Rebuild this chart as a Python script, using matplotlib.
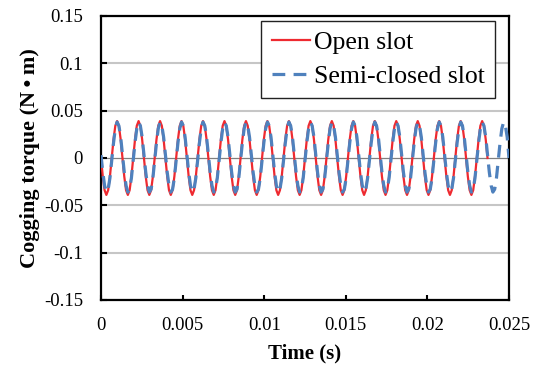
import numpy as np
import matplotlib
matplotlib.use("Agg")
from matplotlib import pyplot as plt

# one period of each waveform (12 samples per period)
open_period = [0.0, -0.0195, -0.034, -0.039, -0.034, -0.0195,
               0.0, 0.0195, 0.034, 0.039, 0.034, 0.0195]
semi_period = [0.003, -0.015, -0.029, -0.036, -0.033, -0.021,
               -0.003, 0.016, 0.031, 0.038, 0.034, 0.022]

# cycles counted on the chart: 19 cycles in 0.025 s
n_open_cycles = 18
n_semi_cycles = 19
period = 0.025 / 19

open_slot = open_period * n_open_cycles + [0.0]
semi_slot = semi_period * n_semi_cycles + [0.0]

x_ticks = [0, 0.005, 0.01, 0.015, 0.02, 0.025]
x_labels = ['0', '0.005', '0.01', '0.015', '0.02', '0.025']
y_ticks = [0.15, 0.1, 0.05, 0, -0.05, -0.1, -0.15]
y_labels = ['0.15', '0.1', '0.05', '0', '-0.05', '-0.1', '-0.15']

plt.rcParams['font.family'] = ['Liberation Serif', 'DejaVu Serif']

dt = period / len(open_period)
t_open = np.arange(len(open_slot)) * dt
t_semi = np.arange(len(semi_slot)) * dt

fig = plt.figure(figsize=(5.36, 3.70), dpi=100)
ax = fig.add_axes([101 / 536, 1 - 300 / 370, 408 / 536, 284 / 370])

for y in y_ticks:
    if y != 0:
        ax.axhline(y, color='#c6c6c6', lw=1.5, zorder=1)
ax.axhline(0, color='#808080', lw=0.9, zorder=1)

ax.plot(t_open, open_slot, color='#ee2a30', lw=1.6, label='Open slot', zorder=3)
ax.plot(t_semi, semi_slot, color='#4f81bd', lw=2.3, dashes=(4, 2.6),
        label='Semi-closed slot', zorder=4)

ax.set_xlim(0, 0.025)
ax.set_ylim(-0.15, 0.15)
ax.set_xticks(x_ticks)
ax.set_xticklabels(x_labels)
ax.set_yticks(y_ticks)
ax.set_yticklabels(y_labels)
ax.tick_params(axis='both', direction='in', labelsize=13.5, width=1.5)
ax.tick_params(axis='y', length=4.5, pad=13)
ax.tick_params(axis='x', length=3.5, pad=12)

for s in ax.spines.values():
    s.set_linewidth(1.6)
    s.set_color('black')

ax.set_xlabel('Time (s)', fontsize=15, fontweight='bold', labelpad=7)
ax.set_ylabel('Cogging torque (N\u2009\u2022\u2009m)', fontsize=16, fontweight='bold', labelpad=3)

leg = ax.legend(loc='upper right', bbox_to_anchor=(0.966, 0.983), borderaxespad=0,
                fontsize=18.5, handlelength=1.5, handletextpad=0.15, labelspacing=0.42,
                borderpad=0.4, fancybox=False, framealpha=1, edgecolor='#222222')
leg.get_frame().set_linewidth(1.0)
leg.set_zorder(5)

fig.savefig('out.png', dpi=100)
